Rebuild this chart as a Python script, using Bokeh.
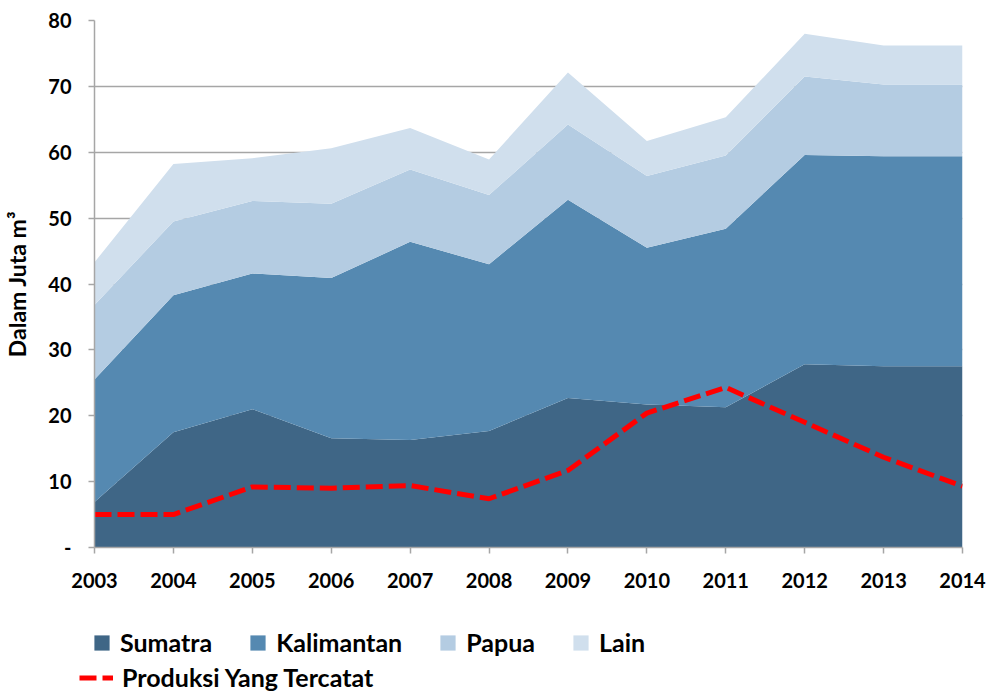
from bokeh.plotting import figure
from bokeh.layouts import column
from bokeh.models import ColumnDataSource, FixedTicker, Legend, LegendItem
from bokeh.embed import file_html
from bokeh.resources import INLINE

years = [2003, 2004, 2005, 2006, 2007, 2008, 2009, 2010, 2011, 2012, 2013, 2014]
year_labels = [str(y) for y in years]
sumatra = [6.9, 17.5, 21.0, 16.6, 16.3, 17.7, 22.7, 21.7, 21.3, 27.8, 27.5, 27.5]
kalimantan = [18.6, 20.8, 20.6, 24.3, 30.1, 25.3, 30.1, 23.8, 27.1, 31.8, 31.9, 31.9]
papua = [11.3, 11.2, 11.0, 11.3, 11.0, 10.5, 11.4, 10.9, 11.1, 11.9, 10.9, 10.9]
lain = [6.5, 8.7, 6.5, 8.4, 6.3, 5.4, 7.9, 5.3, 5.8, 6.5, 5.9, 5.9]
produksi = [5.0, 5.0, 9.2, 9.0, 9.4, 7.4, 11.7, 20.4, 24.3, 19.0, 13.7, 9.3]
y_ticks = [0, 10, 20, 30, 40, 50, 60, 70, 80]
y_tick_labels = ["-", "10", "20", "30", "40", "50", "60", "70", "80"]
series_names = ["Sumatra", "Kalimantan", "Papua", "Lain"]
line_name = "Produksi Yang Tercatat"
y_title = "Dalam Juta m\u00b3"
colors = ["#3F6686", "#5589B1", "#B4CCE2", "#D0DFED"]
line_color = "#FF0000"

FONT = "Lato"
W = 987

source = ColumnDataSource(dict(year=years, Sumatra=sumatra, Kalimantan=kalimantan,
                               Papua=papua, Lain=lain, produksi=produksi))

p = figure(width=W, height=597, output_backend="svg", toolbar_location=None,
           x_range=(2003, 2014), y_range=(0, 80),
           min_border_left=93, min_border_right=25, min_border_top=20, min_border_bottom=50)
p.outline_line_color = None
p.background_fill_color = "white"
p.border_fill_color = "white"

p.varea_stack(series_names, x="year", source=source, color=colors)
p.line(x="year", y="produksi", source=source, line_color=line_color,
       line_width=5, line_dash="17 6")

p.xgrid.visible = False
p.ygrid.grid_line_color = "#A6A6A6"
p.ygrid.grid_line_width = 1.3
p.ygrid.ticker = FixedTicker(ticks=y_ticks)

for ax in (p.xaxis[0], p.yaxis[0]):
    ax.axis_line_color = "#A6A6A6"
    ax.axis_line_width = 1.5
    ax.major_tick_line_color = "#A6A6A6"
    ax.major_tick_line_width = 1.5
    ax.major_tick_out = 6
    ax.major_tick_in = 0
    ax.minor_tick_line_color = None
    ax.major_label_text_font = FONT
    ax.major_label_text_font_style = "bold"
    ax.major_label_text_font_size = "20px"
    ax.major_label_text_color = "#000000"

p.xaxis.ticker = FixedTicker(ticks=years)
p.xaxis.major_label_overrides = dict(zip(years, year_labels))
p.xaxis.major_label_standoff = 19
p.yaxis.ticker = FixedTicker(ticks=y_ticks)
p.yaxis.major_label_overrides = dict(zip(y_ticks, y_tick_labels))
p.yaxis.major_label_standoff = 17
p.yaxis.axis_label = y_title
p.yaxis.axis_label_text_font = FONT
p.yaxis.axis_label_text_font_style = "bold"
p.yaxis.axis_label_text_font_size = "23px"
p.yaxis.axis_label_text_color = "#000000"
p.yaxis.axis_label_standoff = 14

# legend strip below the chart: same data, drawn outside its visible range
lf = figure(width=W, height=96, output_backend="svg", toolbar_location=None,
            x_range=(2003, 2014), y_range=(-2, -1), min_border=0)
if "frame_align" in lf.properties():
    lf.frame_align = False
lf.axis.visible = False
lf.grid.visible = False
lf.outline_line_color = None
lf.background_fill_color = "white"
lf.border_fill_color = "white"

swatches = lf.varea_stack(series_names, x="year", source=source, color=colors)
line_sw = lf.line(x="year", y="produksi", source=source, line_color=line_color,
                  line_width=5, line_dash="17 6")

leg_a = Legend(items=[LegendItem(label=n, renderers=[r]) for n, r in zip(series_names, swatches)],
               orientation="horizontal", location=(92, 36), spacing=36)
leg_b = Legend(items=[LegendItem(label=line_name, renderers=[line_sw])], location=(79, 1))
lf.add_layout(leg_a)
lf.add_layout(leg_b)

for leg in (leg_a, leg_b):
    leg.padding = 0
    leg.margin = 0
    leg.glyph_height = 19
    leg.glyph_width = 19
    leg.label_height = 19
    leg.label_standoff = 9
    leg.border_line_color = None
    leg.background_fill_alpha = 0
    leg.label_text_font = FONT
    leg.label_text_font_style = "bold"
    leg.label_text_font_size = "25px"
    leg.label_text_color = "#000000"
leg_b.glyph_width = 34

layout = column(p, lf, spacing=0)
open("out.html", "w").write(file_html(layout, INLINE))
